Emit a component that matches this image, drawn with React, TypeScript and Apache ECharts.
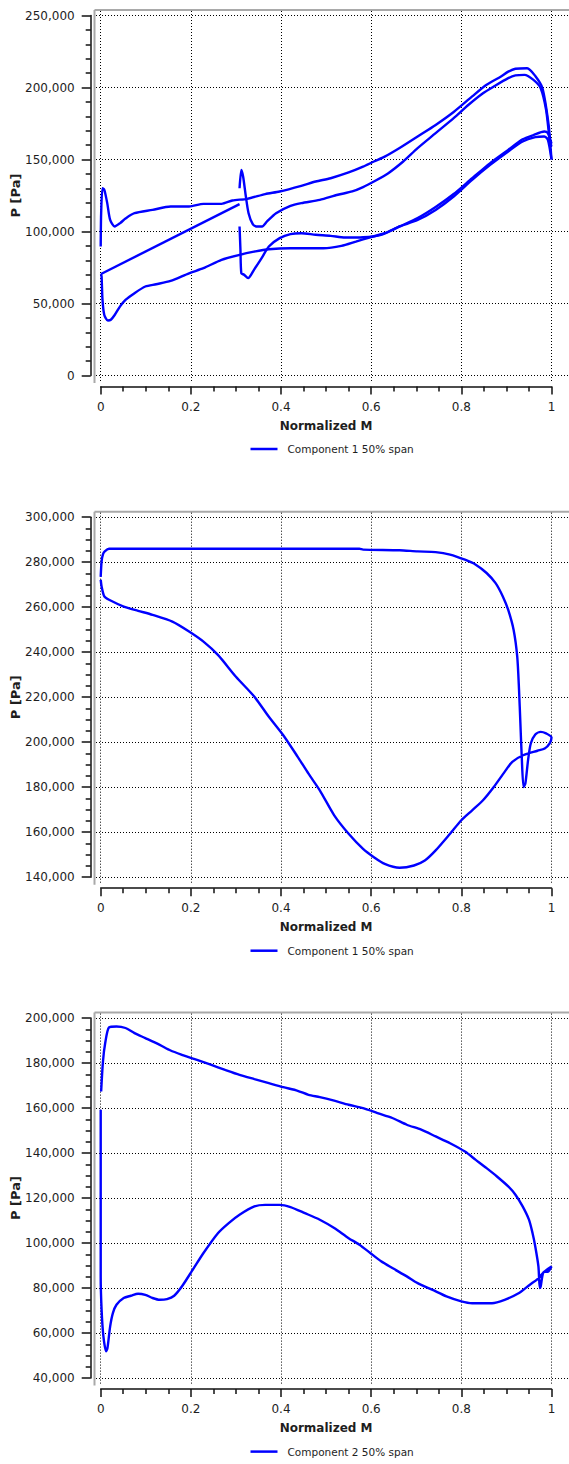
import React, { useEffect, useRef } from "react";
import * as echarts from "echarts";

type Pt = [number, number];

// Series names shown in the legends
const NAME_C1 = "Component 1 50% span";
const NAME_C2 = "Component 2 50% span";

// Axis titles
const X_TITLE = "Normalized M";
const Y_TITLE = "P [Pa]";

// ---- Plot 1: Component 1 (upper/lower traces with a break near M = 0.31) ----
const c1UpperLead: Pt[] = [
  [0, 89600], [0.001, 112700], [0.004, 130000], [0.008, 129000], [0.0145, 119700],
  [0.021, 108000], [0.031, 103500], [0.043, 105800], [0.055, 109000], [0.075, 112700],
  [0.115, 115000], [0.155, 117400], [0.196, 117400], [0.228, 119200], [0.268, 119200],
  [0.292, 121500], [0.325, 122700], [0.365, 126000], [0.397, 127800], [0.445, 131700],
  [0.477, 134700], [0.51, 137000], [0.55, 141000], [0.582, 145000], [0.606, 148600],
  [0.63, 152000], [0.663, 158000], [0.703, 166000], [0.743, 174000], [0.783, 183000],
  [0.824, 193800], [0.856, 201900], [0.888, 207700], [0.904, 211000], [0.92, 213000],
  [0.946, 213400], [0.964, 208000], [0.98, 199500], [0.994, 173000], [1.0, 150000],
];
const c1UpperTrail: Pt[] = [
  [0.308, 130000], [0.312, 142800], [0.316, 138000], [0.322, 124300], [0.328, 112700],
  [0.337, 105300], [0.345, 103500], [0.358, 103500], [0.369, 107000], [0.389, 112700],
  [0.421, 117800], [0.445, 119700], [0.486, 122000], [0.526, 125500], [0.558, 127800],
  [0.582, 130800], [0.606, 134700], [0.638, 140500], [0.671, 148600], [0.703, 157900],
  [0.743, 168300], [0.783, 178700], [0.816, 188000], [0.848, 196000], [0.872, 200700],
  [0.904, 206500], [0.92, 208400], [0.94, 208800], [0.96, 205300], [0.976, 199500],
  [0.988, 184500], [0.996, 163700], [1.0, 159000],
];
const c1Chord: Pt[] = [
  [0.0007, 70500], [0.308, 119000],
];
const c1LowerLead: Pt[] = [
  [0.0007, 70500], [0.002, 68700], [0.004, 52500], [0.008, 42000], [0.016, 38200],
  [0.0225, 38700], [0.031, 42000], [0.043, 48000], [0.055, 52500], [0.075, 57200],
  [0.099, 61800], [0.123, 63400], [0.155, 65700], [0.196, 71000], [0.228, 74500],
  [0.268, 80300], [0.308, 83800], [0.34, 86000], [0.373, 87700], [0.421, 88400],
  [0.461, 88400], [0.494, 88400], [0.534, 90000], [0.566, 93000], [0.598, 96000],
  [0.63, 98800], [0.663, 103500], [0.703, 108000], [0.743, 115000], [0.783, 124300],
  [0.824, 135900], [0.864, 146300], [0.904, 155600], [0.936, 162500], [0.964, 165500],
  [0.984, 166000], [0.992, 163700], [1.0, 150000],
];
const c1LowerTrail: Pt[] = [
  [0.308, 103500], [0.31, 87300], [0.312, 71000], [0.318, 70000], [0.327, 67600],
  [0.34, 73400], [0.357, 81500], [0.373, 89600], [0.397, 95400], [0.421, 98200],
  [0.445, 98800], [0.477, 97700], [0.51, 97000], [0.542, 95800], [0.582, 96000],
  [0.622, 97700], [0.663, 103500], [0.703, 109300], [0.743, 117000], [0.783, 126000],
  [0.824, 137000], [0.864, 147500], [0.904, 156700], [0.936, 164000], [0.96, 167000],
  [0.984, 169400], [0.992, 168300], [1.0, 161000],
];

// ---- Plot 2: Component 1, closed loop ----
const c2Loop: Pt[] = [
  [0, 273500], [0.002, 280400], [0.005, 283500], [0.009, 284800], [0.0185, 286000],
  [0.1, 286000], [0.3, 286000], [0.574, 286000], [0.582, 285600], [0.663, 285300],
  [0.703, 284800], [0.743, 284500], [0.775, 283400], [0.808, 281100], [0.832, 278900],
  [0.856, 275200], [0.876, 270700], [0.892, 264800], [0.904, 258800], [0.916, 249900],
  [0.924, 238000], [0.928, 223200], [0.931, 208300], [0.934, 193500], [0.938, 180100],
  [0.942, 181600], [0.948, 192000], [0.954, 199400], [0.964, 203400], [0.976, 204600],
  [0.988, 203900], [1.0, 202100], [0.996, 199500], [0.985, 197200], [0.969, 196200],
  [0.937, 194200], [0.913, 191300], [0.896, 186800], [0.872, 180100], [0.848, 174200],
  [0.824, 169700], [0.8, 165300], [0.775, 159300], [0.743, 151900], [0.719, 147400],
  [0.695, 145200], [0.663, 144200], [0.63, 145900], [0.606, 148900], [0.582, 152600],
  [0.55, 159300], [0.518, 167500], [0.486, 178600], [0.461, 186000], [0.437, 193500],
  [0.405, 203100], [0.373, 211300], [0.341, 220200], [0.3, 229100], [0.26, 238800],
  [0.228, 244700], [0.196, 249200], [0.159, 253600], [0.115, 256600], [0.083, 258400],
  [0.051, 260300], [0.0185, 263300], [0.008, 264800], [0.002, 269200], [0, 272200],
];

// ---- Plot 3: Component 2, open loop ----
const c3Loop: Pt[] = [
  [0, 159300], [0, 120000], [0, 85200], [0.002, 70400], [0.006, 58500],
  [0.012, 51900], [0.015, 53300], [0.021, 63000], [0.027, 68900], [0.035, 72600],
  [0.051, 75600], [0.067, 76600], [0.083, 77500], [0.099, 77000], [0.115, 75600],
  [0.131, 74800], [0.147, 75100], [0.163, 76600], [0.18, 80700], [0.204, 88100],
  [0.228, 95600], [0.26, 104400], [0.284, 108900], [0.308, 112600], [0.341, 116300],
  [0.365, 117000], [0.397, 117000], [0.421, 116000], [0.453, 113300], [0.486, 110400],
  [0.518, 106700], [0.55, 102200], [0.574, 99300], [0.598, 95600], [0.622, 91900],
  [0.647, 88900], [0.679, 85200], [0.703, 82200], [0.735, 79300], [0.767, 76300],
  [0.8, 74100], [0.824, 73300], [0.868, 73300], [0.896, 74800], [0.928, 77800],
  [0.952, 81500], [0.969, 84000], [0.981, 86700], [0.989, 88100], [1.0, 89600],
  [0.993, 87400], [0.982, 87000], [0.976, 80700], [0.974, 80000], [0.971, 89600],
  [0.964, 98500], [0.958, 104400], [0.95, 110400], [0.936, 116300], [0.92, 121500],
  [0.904, 125200], [0.879, 129600], [0.856, 133300], [0.832, 137000], [0.808, 140700],
  [0.775, 144400], [0.743, 147400], [0.711, 150400], [0.679, 152600], [0.647, 155600],
  [0.614, 157800], [0.582, 160000], [0.55, 161500], [0.518, 163300], [0.486, 164900],
  [0.461, 165900], [0.437, 167700], [0.405, 169300], [0.373, 171100], [0.341, 172900],
  [0.308, 174800], [0.276, 177000], [0.244, 179300], [0.212, 181500], [0.18, 183700],
  [0.155, 185600], [0.131, 188100], [0.099, 191100], [0.075, 193300], [0.055, 195600],
  [0.035, 196300], [0.0185, 195900], [0.01, 188900], [0.005, 180700], [0.001, 167400],
];

// Y-axis ranges of the three plots
const yRange1 = { min: 0, max: 250000, step: 50000, minorSplit: 5 };
const yRange2 = { min: 140000, max: 300000, step: 20000, minorSplit: 4 };
const yRange3 = { min: 40000, max: 200000, step: 20000, minorSplit: 4 };

// Layout (pixels)
const PAGE_W = 569;
const PAGE_H = 1464;
const PANEL_TOPS = [0, 501.7, 1002.6];
const PLOT_L = 100.7;
const PLOT_R = 551.5;
const PLOT_T = 15.5;
const PLOT_B = 375.5;
const FRAME_L = 94.5;
const FRAME_T = 10;
const FRAME_B = 383;

const FONT = "DejaVu Sans";
const TEXT = "#1e1e1e";
const AXIS = "#111";
const BLUE = "#0000ff";
const FRAME = "#a9a9a9";
const DOTTED = { color: "#000", width: 1, type: [1, 2] as number[] };

interface Panel {
  top: number;
  name: string;
  y: { min: number; max: number; step: number; minorSplit: number };
  curves: Pt[][];
}

const panels: Panel[] = [
  { top: PANEL_TOPS[0], name: NAME_C1, y: yRange1, curves: [c1UpperLead, c1UpperTrail, c1Chord, c1LowerLead, c1LowerTrail] },
  { top: PANEL_TOPS[1], name: NAME_C1, y: yRange2, curves: [c2Loop] },
  { top: PANEL_TOPS[2], name: NAME_C2, y: yRange3, curves: [c3Loop] },
];

function buildOption() {
  const grid: any[] = [];
  const xAxis: any[] = [];
  const yAxis: any[] = [];
  const series: any[] = [];
  const legend: any[] = [];
  const graphic: any[] = [];

  const gridBase = { containLabel: false, outerBoundsMode: "none" };

  panels.forEach((p, i) => {
    const off = p.top;
    const base = i * 3;
    const plotW = PLOT_R - PLOT_L;
    const plotH = PLOT_B - PLOT_T;

    // data grid
    grid.push({ ...gridBase, left: PLOT_L, top: off + PLOT_T, width: plotW, height: plotH });
    // horizontal dotted lines reaching the right edge
    grid.push({ ...gridBase, left: FRAME_L + 1.5, top: off + PLOT_T, width: PAGE_W - FRAME_L + 20, height: plotH });
    // vertical dotted lines
    grid.push({ ...gridBase, left: PLOT_L, top: off + FRAME_T + 1, width: plotW, height: FRAME_B - 2 - (FRAME_T + 1) });

    xAxis.push({
      gridIndex: base,
      type: "value",
      min: 0,
      max: 1,
      interval: 0.2,
      position: "bottom",
      offset: 11,
      axisLine: { show: true, onZero: false, lineStyle: { color: AXIS, width: 1.5 } },
      axisTick: { show: true, length: 8, lineStyle: { color: AXIS, width: 1.5 } },
      minorTick: { show: true, splitNumber: 4, length: 5, lineStyle: { color: AXIS, width: 1.5 } },
      axisLabel: { margin: 14, color: TEXT, fontSize: 12, fontFamily: FONT },
      splitLine: { show: false },
      name: X_TITLE,
      nameLocation: "middle",
      nameGap: 33,
      nameMoveOverlap: false,
      nameTextStyle: { color: TEXT, fontSize: 12, fontWeight: "bold", fontFamily: FONT },
    });
    xAxis.push({
      gridIndex: base + 1, type: "value", min: 0, max: 1,
      axisLine: { show: false }, axisTick: { show: false }, axisLabel: { show: false }, splitLine: { show: false },
    });
    xAxis.push({
      gridIndex: base + 2, type: "value", min: 0, max: 1, interval: 0.2,
      axisLine: { show: false }, axisTick: { show: false }, axisLabel: { show: false },
      splitLine: { show: true, lineStyle: DOTTED },
    });

    yAxis.push({
      gridIndex: base,
      type: "value",
      min: p.y.min,
      max: p.y.max,
      interval: p.y.step,
      position: "left",
      offset: 10,
      axisLine: { show: true, onZero: false, lineStyle: { color: AXIS, width: 1.5 } },
      axisTick: { show: true, length: 9, lineStyle: { color: AXIS, width: 1.5 } },
      minorTick: { show: true, splitNumber: p.y.minorSplit, length: 5, lineStyle: { color: AXIS, width: 1.5 } },
      axisLabel: {
        margin: 16, color: TEXT, fontSize: 12, fontFamily: FONT,
        formatter: (v: number) => v.toLocaleString("en-US"),
      },
      splitLine: { show: false },
      name: Y_TITLE,
      nameLocation: "middle",
      nameGap: 69,
      nameMoveOverlap: false,
      nameTextStyle: { color: TEXT, fontSize: 13, fontWeight: "bold", fontFamily: FONT },
    });
    yAxis.push({
      gridIndex: base + 1, type: "value", min: p.y.min, max: p.y.max, interval: p.y.step,
      axisLine: { show: false }, axisTick: { show: false }, axisLabel: { show: false },
      splitLine: { show: true, lineStyle: DOTTED },
    });
    yAxis.push({
      gridIndex: base + 2, type: "value", min: 0, max: 1,
      axisLine: { show: false }, axisTick: { show: false }, axisLabel: { show: false }, splitLine: { show: false },
    });

    p.curves.forEach((c) => {
      series.push({
        type: "line",
        name: p.name,
        xAxisIndex: base,
        yAxisIndex: base,
        data: c,
        showSymbol: false,
        symbol: "none",
        smooth: 0.25,
        clip: false,
        z: 5,
        lineStyle: { color: BLUE, width: 2.4 },
        itemStyle: { color: BLUE },
      });
    });

    legend.push({
      data: [p.name],
      left: 250.5,
      top: off + 443.5,
      icon: "rect",
      itemWidth: 27,
      itemHeight: 2.5,
      padding: 0,
      selectedMode: false,
      itemStyle: { color: BLUE },
      textStyle: { color: TEXT, fontSize: 10.5, fontFamily: FONT, padding: [0, 0, 0, 5] },
    });

    // sunken plot frame: top and left edges
    graphic.push({
      type: "line",
      shape: { x1: FRAME_L, y1: off + FRAME_T, x2: PAGE_W, y2: off + FRAME_T },
      style: { stroke: FRAME, lineWidth: 2 },
      silent: true,
    });
    graphic.push({
      type: "line",
      shape: { x1: FRAME_L, y1: off + FRAME_T, x2: FRAME_L, y2: off + FRAME_B },
      style: { stroke: FRAME, lineWidth: 2 },
      silent: true,
    });
  });

  return {
    animation: false,
    backgroundColor: "#ffffff",
    grid,
    xAxis,
    yAxis,
    series,
    legend,
    graphic,
  };
}

export default function App() {
  const ref = useRef<HTMLDivElement>(null);

  useEffect(() => {
    if (!ref.current) return;
    const chart = echarts.init(ref.current, undefined, { renderer: "svg" });
    chart.setOption(buildOption() as any);
    return () => chart.dispose();
  }, []);

  return (
    <div
      ref={ref}
      style={{ position: "absolute", left: 0, top: 0, width: PAGE_W, height: PAGE_H, background: "#fff" }}
    />
  );
}
